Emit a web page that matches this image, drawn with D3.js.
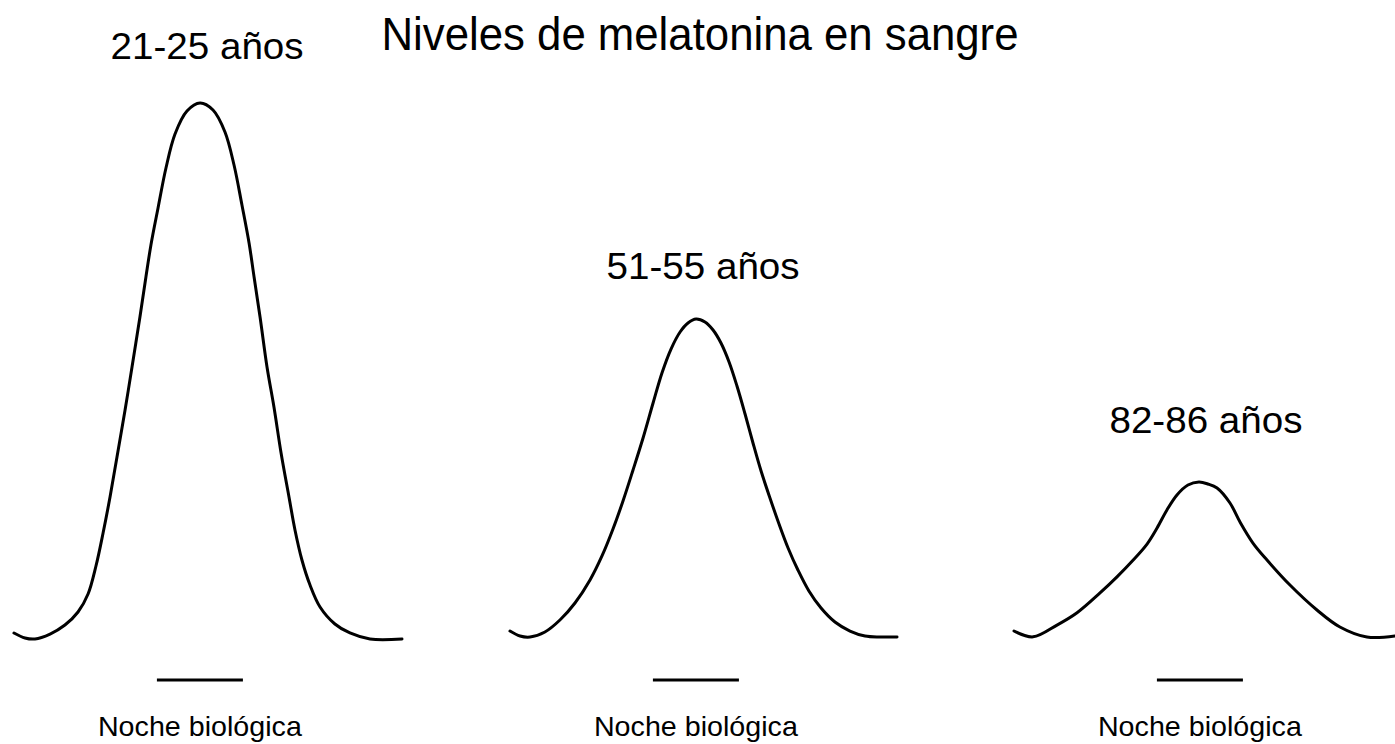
<!DOCTYPE html>
<html>
<head>
<meta charset="utf-8">
<script src="https://cdn.jsdelivr.net/npm/d3@7/dist/d3.min.js"></script>
<style>
  html, body { margin: 0; padding: 0; background: #fff; }
  svg { display: block; }
  text { font-family: "Liberation Sans", Arial, sans-serif; fill: #000; }
</style>
</head>
<body>
<svg id="chart" width="1395" height="744"></svg>
<script>
// ---------- DATA ----------
const title = "Niveles de melatonina en sangre";
const groups = ["21-25 años", "51-55 años", "82-86 años"];
const nightLabel = "Noche biológica";
// biological night window (hours from panel start)
const nightWindow = [8.84, 14.16];

// melatonin profiles: hour (t) and relative level (v)
const hours1 = [0, 0.68, 1.30, 2.23, 3.15, 3.96, 4.58, 5.07, 5.51, 5.94, 6.37, 6.87, 7.30, 7.79, 8.16, 8.47, 8.91, 9.40, 9.96, 10.70, 11.51,
                12.31, 13.05, 13.61, 14.10, 14.54, 14.85, 15.22, 15.65, 16.08, 16.52, 17.01, 17.38, 17.81, 18.31, 18.93, 19.85, 20.78, 22.02, 24.0];
const level1 = [1.12, 0.19, 0, 0.93, 2.61, 5.04, 8.40, 13.62, 19.78, 26.49, 33.96, 42.72, 50.75, 60.07, 67.54, 73.51, 80.41, 87.87, 94.22, 98.51, 100,
                98.69, 94.59, 88.43, 80.97, 73.88, 67.54, 60.07, 50.75, 43.28, 34.70, 26.49, 20.34, 14.74, 10.07, 5.97, 2.80, 1.12, 0, 0];

const hours2 = [0, 0.62, 1.24, 2.16, 3.09, 4.02, 4.95, 5.69, 6.37, 6.99, 7.61, 8.23, 8.85, 9.40, 9.96, 10.52, 11.01, 11.51,
                12.06, 12.56, 13.05, 13.55, 14.04, 14.54, 15.03, 15.53, 16.08, 16.64, 17.20, 17.81, 18.49, 19.24, 20.10, 21.03, 21.96, 22.89, 23.94];
const level2 = [1.49, 0.56, 0.37, 1.31, 3.54, 6.72, 11.01, 15.49, 20.52, 25.75, 31.53, 37.5, 44.03, 49.63, 54.1, 57.28, 58.96, 59.7,
                59.14, 57.65, 55.22, 51.68, 47.2, 41.98, 36.57, 31.34, 26.31, 21.46, 16.98, 12.87, 8.96, 5.78, 3.17, 1.49, 0.56, 0.37, 0.37];

const hours3 = [0, 1.18, 2.66, 3.90, 5.32, 6.37, 7.36, 8.23, 8.85, 9.46, 10.08, 10.76, 11.44, 12.0, 12.56, 13.36, 13.98, 14.78, 15.65, 17.07, 18.74, 20.16, 21.83, 23.56];
const level3 = [1.5, 0.4, 2.6, 4.9, 8.6, 11.6, 14.7, 17.72, 20.71, 24.07, 26.87, 28.73, 29.29, 28.92, 28.17, 25.37, 21.83, 17.91, 14.74, 10.07, 5.41, 2.24, 0.37, 0.56];

const seriesHours = [hours1, hours2, hours3];
const seriesLevels = [level1, level2, level3];

// ---------- LAYOUT ----------
const panelLeft = [14, 510, 1014];
const panelWidth = 388;
const baselineY = 639;
const peakY = 103;
const labelOffsets = [44, 40, 49];

const svg = d3.select("#chart");

const y = d3.scaleLinear().domain([0, 100]).range([baselineY, peakY]);

svg.append("text")
  .attr("x", 700).attr("y", 50)
  .attr("text-anchor", "middle")
  .attr("font-size", 46)
  .attr("textLength", 637)
  .attr("lengthAdjust", "spacingAndGlyphs")
  .text(title);

groups.forEach((g, i) => {
  const x = d3.scaleLinear().domain([0, 24]).range([panelLeft[i], panelLeft[i] + panelWidth]);
  const pts = seriesHours[i].map((t, j) => [t, seriesLevels[i][j]]);

  const line = d3.line()
    .x(d => x(d[0]))
    .y(d => y(d[1]))
    .curve(d3.curveCatmullRom.alpha(0.5));

  svg.append("path")
    .datum(pts)
    .attr("d", line)
    .attr("fill", "none")
    .attr("stroke", "#000")
    .attr("stroke-width", 3)
    .attr("stroke-linejoin", "round")
    .attr("stroke-linecap", "round");

  // peak label
  const peak = pts.reduce((a, b) => (b[1] > a[1] ? b : a));
  svg.append("text")
    .attr("x", x(peak[0]) + 7)
    .attr("y", y(peak[1]) - labelOffsets[i])
    .attr("text-anchor", "middle")
    .attr("font-size", 36)
    .attr("textLength", 193)
    .attr("lengthAdjust", "spacingAndGlyphs")
    .text(g);

  // biological night bar
  svg.append("line")
    .attr("x1", x(nightWindow[0])).attr("x2", x(nightWindow[1]))
    .attr("y1", baselineY + 41).attr("y2", baselineY + 41)
    .attr("stroke", "#000")
    .attr("stroke-width", 3);

  svg.append("text")
    .attr("x", (x(nightWindow[0]) + x(nightWindow[1])) / 2)
    .attr("y", 736)
    .attr("text-anchor", "middle")
    .attr("font-size", 28)
    .attr("textLength", 204)
    .attr("lengthAdjust", "spacingAndGlyphs")
    .text(nightLabel);
});
</script>
</body>
</html>
